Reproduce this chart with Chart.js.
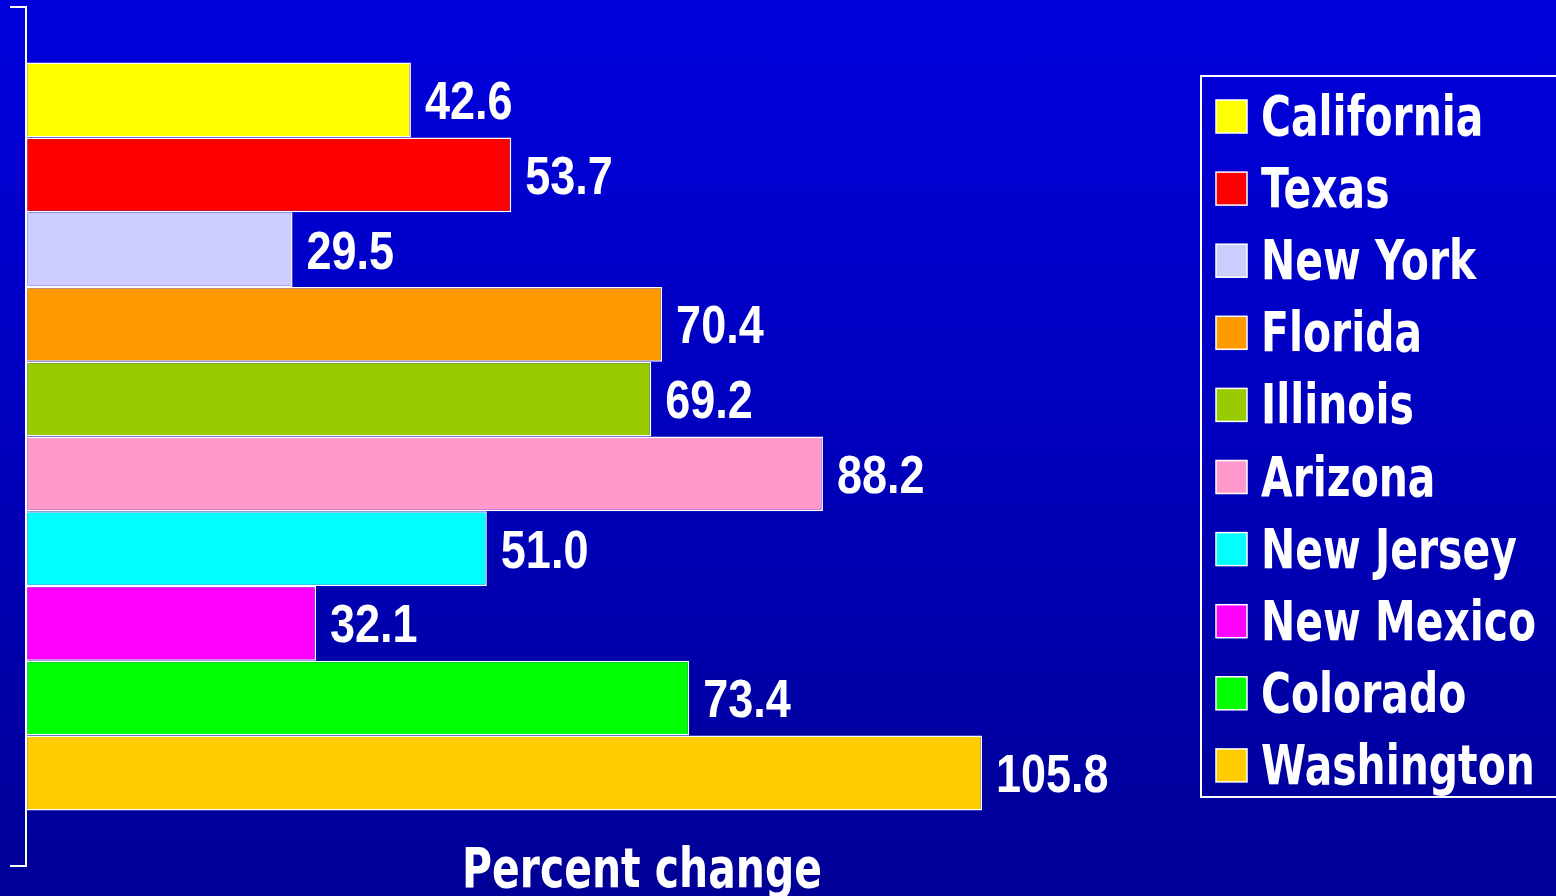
<!DOCTYPE html>
<html>
<head>
<meta charset="utf-8">
<script src="https://cdn.jsdelivr.net/npm/chart.js@4"></script>
<style>
  html, body { margin: 0; padding: 0; }
  body { width: 1556px; height: 896px; overflow: hidden;
         background: linear-gradient(to bottom, #0000dc 0%, #0000c0 45%, #000096 100%); }
  #wrap { position: relative; width: 1556px; height: 896px; }
</style>
</head>
<body>
<div id="wrap"><canvas id="chart"></canvas></div>
<script>
const states = ['California', 'Texas', 'New York', 'Florida', 'Illinois', 'Arizona', 'New Jersey', 'New Mexico', 'Colorado', 'Washington'];
const changes = [42.6, 53.7, 29.5, 70.4, 69.2, 88.2, 51.0, 32.1, 73.4, 105.8];
const colors = ['#ffff00', '#ff0000', '#ccccff', '#ff9900', '#99cc00', '#ff99cc', '#00ffff', '#ff00ff', '#00ff00', '#ffcc00'];
const axisTitle = 'Percent change';

// text in the picture is stretched a bit vertically
function stretchedText(ctx, text, x, y, font, sx, sy, align) {
    ctx.save();
    ctx.translate(x, y);
    ctx.scale(sx, sy);
    ctx.font = font;
    ctx.fillStyle = '#ffffff';
    ctx.textAlign = align || 'left';
    ctx.textBaseline = 'alphabetic';
    ctx.fillText(text, 0, 0);
    ctx.restore();
}

const labelsPlugin = {
    id: 'labelsPlugin',
    afterDatasetsDraw(chart) {
        const ctx = chart.ctx;
        chart.data.datasets.forEach(function(ds, i) {
            const bar = chart.getDatasetMeta(i).data[0];
            stretchedText(ctx, ds.data[0].toFixed(1), bar.x + 14, bar.y + 19,
                'bold 45px "Liberation Sans", Arial, sans-serif', 1, 1.18);
        });
    },
    afterDraw(chart) {
        const ctx = chart.ctx;
        const legendFont = 'bold 47px "DejaVu Sans", Verdana, sans-serif';
        const right = chart.width + 20;

        // legend box, its right side runs off the picture
        ctx.save();
        ctx.strokeStyle = '#ffffff';
        ctx.lineWidth = 2;
        ctx.beginPath();
        ctx.moveTo(right, 76);
        ctx.lineTo(1201, 76);
        ctx.lineTo(1201, 797);
        ctx.lineTo(right, 797);
        ctx.stroke();
        ctx.restore();

        chart.data.datasets.forEach(function(ds, i) {
            const cy = 116 + i * 72.1;
            ctx.save();
            ctx.fillStyle = ds.backgroundColor;
            ctx.fillRect(1216, cy - 16, 31, 33);
            ctx.strokeStyle = '#ffffff';
            ctx.lineWidth = 1.5;
            ctx.strokeRect(1216, cy - 16, 31, 33);
            ctx.restore();
            stretchedText(ctx, ds.label, 1261, cy + 19, legendFont, 0.87, 1.17);
        });

        stretchedText(ctx, axisTitle, 642, 887, legendFont, 0.87, 1.17, 'center');
    }
};

const datasets = states.map(function(name, i) {
    return {
        label: name,
        data: [changes[i]],
        backgroundColor: colors[i],
        borderColor: '#ffffff',
        borderWidth: 1.5,
        borderSkipped: false,
        barPercentage: 1.0,
        categoryPercentage: 0.8705
    };
});

new Chart(document.getElementById('chart'), {
    type: 'bar',
    data: { labels: [''], datasets: datasets },
    options: {
        indexAxis: 'y',
        responsive: true,
        maintainAspectRatio: false,
        animation: false,
        layout: { padding: { left: 10, top: 7, bottom: 30, right: 265 } },
        scales: {
            x: { display: false, min: 0, max: 140 },
            y: {
                display: true,
                ticks: { display: false },
                grid: { display: true, drawOnChartArea: false, drawTicks: true, tickLength: 16, color: '#ffffff', lineWidth: 2 },
                border: { display: true, color: '#ffffff', width: 2 }
            }
        },
        plugins: {
            legend: { display: false },
            tooltip: { enabled: false }
        }
    },
    plugins: [labelsPlugin]
});
</script>
</body>
</html>
